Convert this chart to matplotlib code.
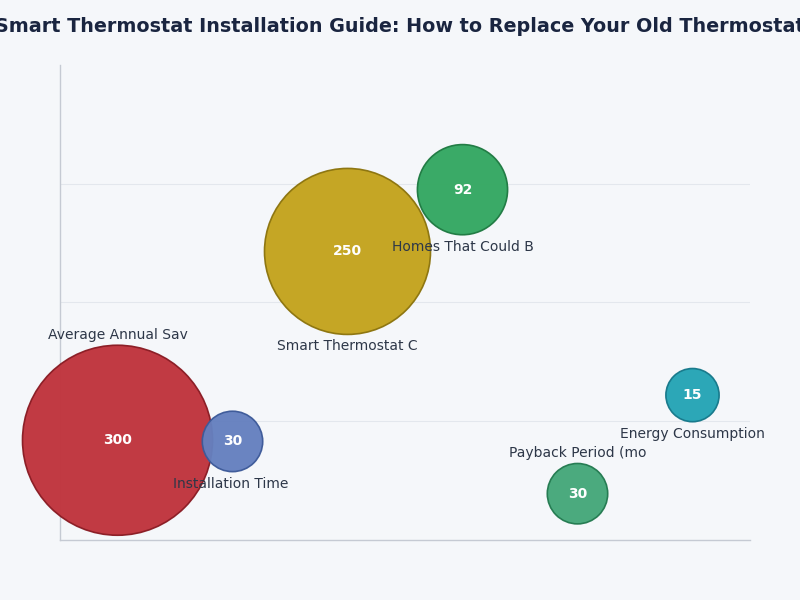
import matplotlib.pyplot as plt

# metric names (shown cut to 18 chars), values and vertical position
labels = [
    "Average Annual Savings ($)",
    "Installation Time (min)",
    "Smart Thermostat Cost ($)",
    "Homes That Could Benefit (%)",
    "Payback Period (months)",
    "Energy Consumption Reduction (%)",
]
values = [300, 30, 250, 92, 30, 15]
y_vals = [0.84, 0.83, 2.43, 2.95, 0.39, 1.22]

fill_colors = ["#c0343d", "#6580bf", "#c4a41e", "#34a862", "#45a87a", "#25a5b5"]
edge_colors = ["#8a1c24", "#3d5a99", "#8c740e", "#1f7a42", "#237a50", "#16788a"]

BG = "#f5f7fa"
DPI = 100

fig = plt.figure(figsize=(8, 6), dpi=DPI, facecolor=BG)
ax = fig.add_axes([0.075, 0.1, 0.8625, 0.7917])
ax.set_facecolor(BG)

x_vals = list(range(len(values)))
vmax = max(values)
# bubble diameter in pixels grows linearly with the value
diam_px = [46 + 144 * v / vmax for v in values]
sizes = [(d * 72 / DPI) ** 2 for d in diam_px]

ax.scatter(x_vals, y_vals, s=sizes, c=fill_colors, edgecolors=edge_colors,
           linewidths=1.2, alpha=0.97, zorder=3, clip_on=False)

ax.set_xlim(-0.5, 5.5)
ax.set_ylim(0, 4)

for x, y, v, name, d in zip(x_vals, y_vals, values, labels, diam_px):
    ax.text(x, y, str(v), ha="center", va="center", color="white",
            fontsize=10, fontweight="bold", zorder=4)
    # put the name under the bubble, unless it would fall off the axes
    bottom_px = (y / 4) * 475 - d / 2
    if bottom_px < 20:
        dy = (d / 2 + 10) * 72 / DPI
    else:
        dy = -(d / 2 + 12) * 72 / DPI
    ax.annotate(name[:18], (x, y), xytext=(0, dy), textcoords="offset points",
                ha="center", va="center", fontsize=10, color="#2d3748", zorder=5)

ax.set_yticks([1, 2, 3])
ax.set_xticks([])
ax.tick_params(length=0, labelleft=False)
ax.grid(axis="y", color="#e3e7ed", linewidth=0.8)
ax.set_axisbelow(True)

for side in ["top", "right"]:
    ax.spines[side].set_visible(False)
for side in ["left", "bottom"]:
    ax.spines[side].set_color("#c5cad3")
    ax.spines[side].set_linewidth(1)

fig.text(0.5, 0.955, "Smart Thermostat Installation Guide: How to Replace Your Old Thermostat",
         ha="center", va="center", fontsize=13.8, fontweight="bold", color="#1a2540")

fig.savefig("out.png", dpi=DPI, facecolor=BG)
